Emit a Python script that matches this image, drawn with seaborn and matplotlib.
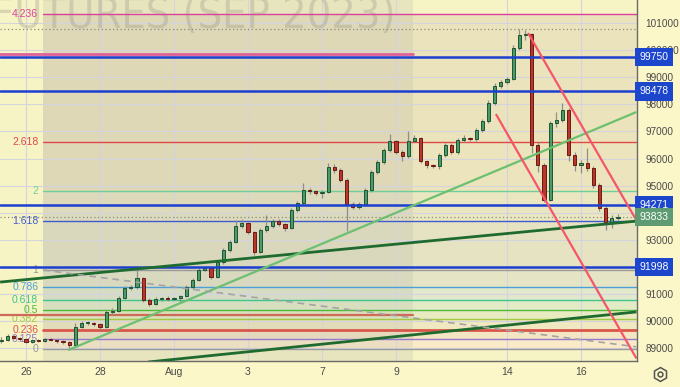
import numpy as np
import pandas as pd
import seaborn as sns
import matplotlib.pyplot as plt
from matplotlib import font_manager as fm
from matplotlib.lines import Line2D

# hourly-ish candles squeezed to 6 bars per trading day, first bar = Jul 25 evening
bars_per_day = 6
first_open = 89250
close = [89300, 89450, 89380, 89340, 89230, 89300, 89270, 89340, 89300, 89270,
         89230, 89120, 89780, 89930, 89930, 89890, 89780, 90340, 90370, 90850,
         91220, 91260, 91590, 90780, 90630, 90820, 90850, 90820, 90850, 90930,
         91260, 91520, 91890, 91960, 91630, 92180, 92620, 92920, 93510, 93620,
         93290, 92550, 93360, 93510, 93690, 93580, 93440, 94100, 94360, 94840,
         94800, 94730, 94760, 95690, 95580, 95210, 94320, 94210, 94320, 94840,
         95500, 95870, 96310, 96650, 96240, 96090, 96650, 96760, 95910, 95760,
         95720, 96130, 96500, 96240, 96680, 96760, 96720, 97050, 97380, 98050,
         98680, 98820, 98930, 100080, 100560, 100590, 96500, 95760, 94470, 97310,
         97420, 97790, 96130, 95760, 95830, 95650, 95020, 94170, 93660, 93800,
         93833]
high = [89420, 89520, 89500, 89420, 89380, 89350, 89340, 89380, 89390, 89330,
        89310, 89260, 89920, 90020, 90010, 89980, 89920, 90420, 90480, 90920,
        91300, 91330, 91886, 91640, 90850, 90880, 90900, 90910, 90900, 90980,
        91320, 91580, 91950, 92030, 92000, 92260, 92700, 93000, 93720, 93750,
        93660, 93330, 93420, 93900, 93760, 93750, 93620, 94180, 94450, 95100,
        94920, 94850, 94830, 95850, 95800, 95650, 95280, 94400, 94400, 94900,
        95580, 95950, 96400, 96900, 96700, 96300, 97000, 96850, 96800, 95950,
        95800, 96200, 96580, 96560, 96750, 96850, 96800, 97120, 97460, 98150,
        98780, 98900, 99000, 100200, 100780, 100750, 100620, 96600, 95830, 97400,
        97700, 98050, 97850, 96250, 95950, 96380, 95720, 95100, 94250, 93900,
        93950]
low = [89200, 89260, 89330, 89280, 89180, 89190, 89220, 89240, 89260, 89210,
       89170, 88970, 89080, 89730, 89860, 89820, 89720, 89750, 90230, 90320,
       90800, 91150, 91200, 90720, 90560, 90580, 90740, 90760, 90780, 90660,
       90880, 91200, 91480, 91840, 91560, 91600, 92120, 92560, 92880, 93450,
       93220, 92450, 92500, 93300, 93420, 93500, 93330, 93400, 94020, 94300,
       94700, 94650, 94560, 94720, 95480, 95120, 93320, 94120, 94150, 94260,
       94780, 95430, 95800, 96250, 96150, 95900, 96030, 96600, 95820, 95650,
       95650, 95600, 96050, 96150, 96180, 96620, 96650, 96660, 96980, 97320,
       97980, 98620, 98750, 98880, 100000, 100380, 96200, 95500, 94380, 94420,
       97150, 97350, 95900, 95550, 95450, 95550, 94900, 94080, 93380, 93450,
       93720]

# x axis: trading days counted from Jul 26
tick_days = [0, 2, 4, 6, 8, 10, 13, 15]
tick_labels = ['26', '28', 'Aug', '3', '7', '9', '14', '16']
price_ticks = list(range(89000, 101001, 1000))
hidden_ticks = [92000, 94000]   # covered by price tags in the reference

# fibonacci grid drawn from the Jul 25 low to the Jul 28 high
fib_low, fib_high = 88970, 91886
fib_start = 0.46
fib_levels = [0, 0.125, 0.236, 0.382, 0.5, 0.618, 0.786, 1, 1.618, 2, 2.618, 4.236]
fib_names = ['0', '0.125', '0.236', '0.382', '0.5', '0.618', '0.786', '1', '1.618', '2', '2.618', '4.236']
fib_colors = ['#9a9a9a', '#9478cc', '#d9574a', '#a2c845', '#4cbb3c', '#3fc58e',
              '#4d9fd6', '#9a9a9a', '#3f5bd2', '#6fcf9a', '#e04848', '#df3f9c']
band_colors = ['#fbeac8', '#f4e5c3', '#efe8c0', '#e8ebc0', '#e3ebc6', '#e2e8cc',
               '#e5e5c6', '#e6e3c2', '#e9e6c0', '#ece4bc', '#ebe3bb']

# user levels with price tags on the scale
key_levels = [99750, 98478, 94271, 91998]
last_price = 93833
session_high = 100780

# drawn trend lines: (day, price) anchors
trend_lines = [
    ((-0.7, 91440), (16.5, 93690), '#1f6b2f', 2.0, '-'),
    ((3.3, 88490), (16.5, 90340), '#1f6b2f', 2.0, '-'),
    ((1.14, 88930), (16.5, 97716), '#6cc070', 1.6, '-'),
    ((13.57, 100630), (16.5, 93716), '#f4566a', 1.6, '-'),
    ((12.7, 97640), (16.5, 88620), '#f4566a', 1.6, '-'),
    ((0.46, 91886), (16.5, 89050), '#a4a4a4', 1.2, (0, (4, 3))),
]
box_end = 10.46
box_top, box_bottom = 99856, 90225

sns.set_theme(style="white")
plt.rcParams['font.family'] = ['Liberation Sans', 'DejaVu Sans']

df = pd.DataFrame({'close': close, 'high': high, 'low': low})
df['open'] = df['close'].shift(1).fillna(first_open)
df['day'] = (np.arange(len(df)) - 4) / bars_per_day
up = df['close'] >= df['open']

fig = plt.figure(figsize=(6.8, 3.87), dpi=100, facecolor='#fcf7c8')
ax = fig.add_axes([0, 26 / 387, 637 / 680, 361 / 387])
ax.set_facecolor('#f6f3c4')
ax.set_xlim(-0.703, 16.514)
ax.set_ylim(88528, 101849)

# fib bands + grey date-range shading
prices = [fib_low + (fib_high - fib_low) * lv for lv in fib_levels]
for i, c in enumerate(band_colors):
    ax.fill_between([fib_start, 16.6], prices[i], prices[i + 1], color=c, lw=0, zorder=0.5)
ax.axvspan(fib_start, box_end, color='#8f969a', alpha=0.14, lw=0, zorder=0.6)

for t in tick_days:
    ax.axvline(t, color='#d3d4de', lw=0.8, zorder=0.7)
for p in price_ticks:
    ax.axhline(p, color='#d3d4de', lw=0.8, zorder=0.7)

# watermark
names = {(f.name, f.stretch) for f in fm.fontManager.ttflist}
if any(n == 'Liberation Sans Narrow' for n, s in names):
    wm = dict(family='Liberation Sans Narrow', size=36)
elif ('DejaVu Sans', 'condensed') in names:
    wm = dict(family='DejaVu Sans', stretch='condensed', size=31)
else:
    wm = dict(family='Liberation Sans', size=28)
ax.text(-0.93, 101250, 'FUTURES (SEP 2023)', color='#8a8a80', alpha=0.28,
        ha='left', va='center', zorder=0.8, **wm)

for p, name, c in zip(prices, fib_names, fib_colors):
    lw = 2 if name == '0.236' else 1
    ax.plot([fib_start, 16.6], [p, p], color=c, lw=lw, zorder=2)
    ax.text(0.33, p, name, color=c, fontsize=7.5, ha='right', va='center', zorder=2)

ax.plot([-0.8, box_end], [box_top, box_top], color='#e0609a', lw=2, zorder=2)
ax.plot([-0.8, box_end], [box_bottom, box_bottom], color='#cf6a58', lw=1.6, zorder=2)
for p in [session_high, last_price]:
    ax.axhline(p, color='#8a8a80', lw=0.9, ls=(0, (1, 2)), zorder=2)

# candles
ax.vlines(df['day'], df['low'], df['high'], color='#8e8e8e', lw=0.9, zorder=3)
body_lo = df[['open', 'close']].min(axis=1)
body_h = (df['close'] - df['open']).abs().clip(lower=25)
w = 0.5 / bars_per_day
ax.bar(df['day'][up], body_h[up], bottom=body_lo[up], width=w,
       color='#4a9a6a', edgecolor='#1f5533', lw=0.7, zorder=3.2)
ax.bar(df['day'][~up], body_h[~up], bottom=body_lo[~up], width=w,
       color='#b8362a', edgecolor='#6a1a12', lw=0.7, zorder=3.2)

for p in key_levels:
    ax.axhline(p, color='#1c3fcf', lw=1.8, zorder=3.5)

for (x1, y1), (x2, y2), c, lw, ls in trend_lines:
    ax.plot([x1, x2], [y1, y2], color=c, lw=lw, ls=ls, zorder=4, solid_capstyle='butt')

# axes, ticks
sns.despine(ax=ax, left=True, top=True, right=False, bottom=False)
for s in ['right', 'bottom']:
    ax.spines[s].set_color('#6a6a6a')
    ax.spines[s].set_linewidth(1)
ax.yaxis.tick_right()
ax.set_yticks(price_ticks)
ax.set_yticklabels(['' if p in hidden_ticks else str(p) for p in price_ticks])
ax.set_xticks(tick_days)
ax.set_xticklabels(tick_labels)
ax.tick_params(axis='y', length=0, pad=6, labelsize=7.2, labelcolor='#4a4a4a')
ax.tick_params(axis='x', length=0, pad=4, labelsize=7.5, labelcolor='#4a4a4a')
ax.grid(False)

for p in key_levels:
    ax.annotate(str(p), xy=(1.004, p), xycoords=('axes fraction', 'data'),
                ha='left', va='center', fontsize=7.5, color='white', zorder=6,
                bbox=dict(boxstyle='square,pad=0.4', fc='#1c46cc', ec='none'),
                annotation_clip=False)
ax.annotate(str(last_price), xy=(1.004, last_price), xycoords=('axes fraction', 'data'),
            ha='left', va='center', fontsize=7.5, color='white', zorder=6,
            bbox=dict(boxstyle='square,pad=0.4', fc='#5f9b72', ec='none'),
            annotation_clip=False)

# settings gear in the corner
gx, gy = 660 / 680, 1 - 374 / 387
fig.add_artist(Line2D([gx], [gy], marker='h', ms=10, mfc='none', mec='#555555', mew=1.1,
                      transform=fig.transFigure))
fig.add_artist(Line2D([gx], [gy], marker='o', ms=3.5, mfc='none', mec='#555555', mew=1.1,
                      transform=fig.transFigure))

fig.savefig('out.png', dpi=100, facecolor=fig.get_facecolor())
